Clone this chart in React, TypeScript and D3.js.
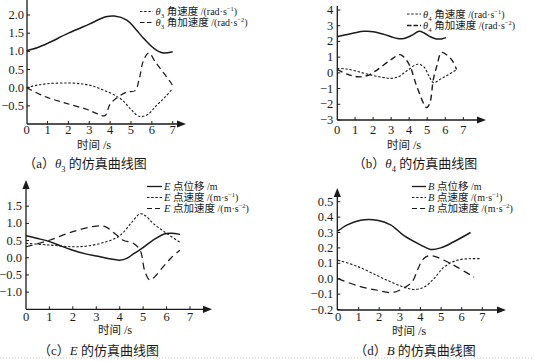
import React from "react";
import * as d3 from "d3";

// ---------- data ----------
const xTickValues = [0, 1, 2, 3, 4, 5, 6, 7];

// (a) theta3
const aAngleT = [0, 0.5, 1, 2, 3, 3.8, 4.2, 4.8, 5.2, 5.6, 6.1, 6.5, 7];
const aAngleV = [1.02, 1.1, 1.22, 1.5, 1.75, 1.95, 1.97, 1.86, 1.63, 1.36, 1.08, 0.96, 0.99];
const aVelT = [0, 0.5, 1, 2, 2.7, 3.2, 3.7, 4.2, 4.6, 5.0, 5.4, 5.8, 6.2, 6.6, 7];
const aVelV = [0, 0.07, 0.11, 0.13, 0.1, 0.04, -0.07, -0.2, -0.35, -0.6, -0.79, -0.74, -0.5, -0.28, -0.02];
const aAccT = [0, 0.9, 1.9, 2.9, 3.4, 3.75, 4.0, 4.4, 4.8, 5.2, 5.4, 5.6, 5.85, 6.2, 6.6, 6.9, 7.05];
const aAccV = [0, -0.25, -0.43, -0.6, -0.72, -0.77, -0.45, -0.25, -0.12, -0.08, 0.25, 0.75, 0.95, 0.68, 0.38, 0.15, 0.0];
const aYTicks = [-0.5, 0, 0.5, 1, 1.5, 2];

// (b) theta4
const bAngleT = [0, 0.5, 1, 1.5, 2, 2.6, 3.0, 3.35, 3.7, 4.2, 4.55, 4.85, 5.2, 5.5, 5.8, 6.05];
const bAngleV = [2.3, 2.42, 2.55, 2.64, 2.62, 2.45, 2.3, 2.18, 2.18, 2.42, 2.64, 2.52, 2.28, 2.16, 2.16, 2.24];
const bVelT = [0, 0.5, 1.1, 1.8, 2.5, 3.0, 3.4, 3.9, 4.45, 4.8, 5.1, 5.35, 5.8, 6.2, 6.63];
const bVelV = [0.28, 0.25, 0.1, -0.12, -0.28, -0.35, -0.25, 0.15, 0.55, 0.4, -0.2, -0.62, -0.35, -0.1, 0.21];
const bAccT = [0, 0.6, 1.15, 1.7, 2.25, 3.0, 3.5, 3.75, 4.05, 4.42, 4.97, 5.15, 5.34, 5.55, 5.8, 6.35, 6.63];
const bAccV = [0.22, -0.1, -0.25, -0.17, 0.21, 0.85, 1.16, 0.95, 0.42, -0.85, -2.21, -1.9, -0.42, 0.5, 1.3, 0.84, 0.21];
const bYTicks = [-3, -2, -1, 0, 1, 2, 3, 4];

// (c) point E
const cDispT = [0, 0.5, 1, 1.5, 2, 2.5, 3, 3.5, 4, 4.3, 4.6, 4.9, 5.4, 5.9, 6.2, 6.57];
const cDispV = [0.64, 0.56, 0.47, 0.34, 0.22, 0.12, 0.05, -0.02, -0.07, -0.02, 0.12, 0.25, 0.5, 0.69, 0.71, 0.68];
const cVelT = [0, 1, 2, 2.6, 3.4, 4.0, 4.5, 4.87, 5.1, 5.43, 6.0, 6.57];
const cVelV = [0.42, 0.37, 0.32, 0.34, 0.46, 0.64, 1.02, 1.28, 1.22, 1.0, 0.71, 0.45];
const cAccT = [0, 1, 2, 3, 3.4, 3.87, 4.15, 4.58, 4.87, 5.08, 5.29, 5.5, 5.86, 6.2, 6.57];
const cAccV = [0.32, 0.51, 0.76, 0.92, 0.9, 0.66, 0.51, 0.42, 0.22, -0.41, -0.65, -0.55, -0.26, 0.0, 0.22];
const cYTicks = [-1, -0.5, 0, 0.5, 1, 1.5];

// (d) point B
const dDispT = [0, 0.45, 1.1, 1.9, 2.55, 3.2, 4.0, 4.49, 4.98, 5.62, 6.43];
const dDispV = [0.31, 0.35, 0.38, 0.38, 0.35, 0.28, 0.22, 0.19, 0.2, 0.24, 0.3];
const dVelT = [0, 0.94, 1.9, 2.55, 3.2, 3.68, 4.17, 4.65, 5.14, 5.78, 6.43, 6.91];
const dVelV = [0.12, 0.08, 0.02, -0.02, -0.055, -0.07, -0.055, 0, 0.075, 0.12, 0.13, 0.13];
const dAccT = [0, 0.94, 1.9, 2.63, 3.2, 3.6, 3.9, 4.15, 4.49, 5.14, 5.78, 6.6];
const dAccV = [0, -0.045, -0.075, -0.09, -0.06, -0.02, 0.07, 0.13, 0.15, 0.12, 0.075, 0.01];
const dYTicks = [-0.2, -0.1, 0, 0.1, 0.2, 0.3, 0.4, 0.5];

// ---------- styling ----------
const FONT = '"Liberation Serif", "Times New Roman", "Noto Sans CJK SC", serif';
const INK = "#1a1a1a";

type Part = { t: string; i?: boolean; sub?: boolean; sup?: boolean; s?: number };

function Rich({ x, y, parts, size, anchor }: { x: number; y: number; parts: Part[]; size: number; anchor?: string }) {
  let off = 0;
  const spans = parts.map((p, k) => {
    const target = p.sub ? size * 0.28 : p.sup ? -size * 0.38 : 0;
    const dy = target - off;
    off = target;
    const fs = p.s ?? (p.sub || p.sup ? size * 0.65 : size);
    return (
      <tspan key={k} dy={dy} fontStyle={p.i ? "italic" : "normal"} fontSize={fs}>
        {p.t}
      </tspan>
    );
  });
  return (
    <text x={x} y={y} fontFamily={FONT} fontSize={size} fill={INK} textAnchor={anchor ?? "start"}>
      {spans}
    </text>
  );
}

type Series = { t: number[]; v: number[]; dash?: string; w: number };
type LegendRow = { y: number; dash?: string; w: number; parts: Part[] };

type PanelCfg = {
  xRange: [number, number];
  yDomain: [number, number];
  yRange: [number, number];
  axisX: number;
  axisY: number;
  yTop: number;
  upArrow: boolean;
  xEnd: number;
  yTicks: number[];
  yFmt: (n: number) => string;
  series: Series[];
  legend: { x1: number; x2: number; tx: number; rows: LegendRow[] };
  title: { x: number; y: number };
  caption: { x: number; y: number; parts: Part[] };
  labelGap: number;
  xLabelY: number;
};

function Panel({ cfg }: { cfg: PanelCfg }) {
  const xs = d3.scaleLinear().domain([0, 7]).range(cfg.xRange);
  const ys = d3.scaleLinear().domain(cfg.yDomain).range(cfg.yRange);
  const line = d3
    .line<[number, number]>()
    .x((d) => xs(d[0]))
    .y((d) => ys(d[1]))
    .curve(d3.curveCatmullRom.alpha(0.5));
  const ah = 9;
  const aw = 3.6;
  return (
    <g>
      {cfg.series.map((s, k) => (
        <path
          key={k}
          d={line(s.t.map((t, i) => [t, s.v[i]] as [number, number])) ?? ""}
          fill="none"
          stroke={INK}
          strokeWidth={s.w}
          strokeDasharray={s.dash}
        />
      ))}
      {/* axes */}
      <line x1={cfg.axisX} x2={cfg.axisX} y1={cfg.axisY} y2={cfg.upArrow ? cfg.yTop + ah - 1 : cfg.yTop} stroke={INK} strokeWidth={1.3} />
      <line x1={cfg.axisX} x2={cfg.xEnd - ah + 1} y1={cfg.axisY} y2={cfg.axisY} stroke={INK} strokeWidth={1.3} />
      <path d={`M${cfg.xEnd},${cfg.axisY} L${cfg.xEnd - ah},${cfg.axisY - aw} L${cfg.xEnd - ah},${cfg.axisY + aw} Z`} fill={INK} />
      {cfg.upArrow && (
        <path d={`M${cfg.axisX},${cfg.yTop} L${cfg.axisX - aw},${cfg.yTop + ah} L${cfg.axisX + aw},${cfg.yTop + ah} Z`} fill={INK} />
      )}
      {/* y ticks */}
      {cfg.yTicks.map((v) => (
        <g key={v}>
          <line x1={cfg.axisX} x2={cfg.axisX + 3} y1={ys(v)} y2={ys(v)} stroke={INK} strokeWidth={1} />
          <text x={cfg.axisX - cfg.labelGap} y={ys(v) + 4} textAnchor="end" fontFamily={FONT} fontSize={12.5} fill={INK}>
            {cfg.yFmt(v)}
          </text>
        </g>
      ))}
      {/* x ticks */}
      {xTickValues.map((t) => (
        <g key={t}>
          {t > 0 && <line x1={xs(t)} x2={xs(t)} y1={cfg.axisY} y2={cfg.axisY - 3} stroke={INK} strokeWidth={1} />}
          <text x={xs(t)} y={cfg.xLabelY} textAnchor="middle" fontFamily={FONT} fontSize={12.5} fill={INK}>
            {String(t)}
          </text>
        </g>
      ))}
      {/* axis title */}
      <Rich x={cfg.title.x} y={cfg.title.y} size={11.5} parts={[{ t: "时间 " }, { t: "/s", s: 12.5 }]} />
      {/* caption */}
      <Rich x={cfg.caption.x} y={cfg.caption.y} size={13} anchor="middle" parts={cfg.caption.parts} />
      {/* legend */}
      {cfg.legend.rows.map((r, k) => (
        <g key={k}>
          <line x1={cfg.legend.x1} x2={cfg.legend.x2} y1={r.y} y2={r.y} stroke={INK} strokeWidth={r.w} strokeDasharray={r.dash} />
          <Rich x={cfg.legend.tx} y={r.y + 3.6} size={10.5} parts={r.parts} />
        </g>
      ))}
    </g>
  );
}

const fmt1 = (n: number) => d3.format(".1f")(n);
const fmt0 = (n: number) => d3.format("d")(n);

const DOT = "2.4,1.8";
const DASH = "6,4";

const unitRad = (p: string): Part[] => [
  { t: " /(rad·s", s: 10 },
  { t: p, sup: true, s: 6.5 },
  { t: ")", s: 10 },
];
const unitM = (p: string): Part[] => [
  { t: " /(m·s", s: 10 },
  { t: p, sup: true, s: 6.5 },
  { t: ")", s: 10 },
];

const panelA: PanelCfg = {
  xRange: [26.7, 172.7],
  yDomain: [0, 2],
  yRange: [87.7, 15],
  axisX: 27,
  axisY: 124,
  yTop: 0,
  upArrow: false,
  xEnd: 186,
  yTicks: aYTicks,
  yFmt: fmt1,
  labelGap: 3,
  xLabelY: 133.5,
  series: [
    { t: aAngleT, v: aAngleV, w: 1.5 },
    { t: aVelT, v: aVelV, w: 1.1, dash: DOT },
    { t: aAccT, v: aAccV, w: 1.25, dash: DASH },
  ],
  legend: {
    x1: 140,
    x2: 153,
    tx: 155.5,
    rows: [
      { y: 11.5, w: 1, dash: DOT, parts: [{ t: "θ", i: true }, { t: "3", sub: true }, { t: " 角速度" }, ...unitRad("−1")] },
      { y: 22.5, w: 1.2, dash: "4.5,2.5", parts: [{ t: "θ", i: true }, { t: "3", sub: true }, { t: " 角加速度" }, ...unitRad("−2")] },
    ],
  },
  title: { x: 77, y: 149 },
  caption: { x: 85, y: 168, parts: [{ t: "（a）" }, { t: "θ", i: true }, { t: "3", sub: true }, { t: " 的仿真曲线图" }] },
};

const panelB: PanelCfg = {
  xRange: [337, 463.3],
  yDomain: [-3, 4],
  yRange: [120, 10],
  axisX: 337.3,
  axisY: 120,
  yTop: 6,
  upArrow: false,
  xEnd: 486,
  yTicks: bYTicks,
  yFmt: fmt0,
  labelGap: 4,
  xLabelY: 133.5,
  series: [
    { t: bAngleT, v: bAngleV, w: 1.5 },
    { t: bVelT, v: bVelV, w: 1.1, dash: DOT },
    { t: bAccT, v: bAccV, w: 1.4, dash: DASH },
  ],
  legend: {
    x1: 407,
    x2: 421,
    tx: 423,
    rows: [
      { y: 14, w: 1, dash: DOT, parts: [{ t: "θ", i: true }, { t: "4", sub: true }, { t: " 角速度" }, ...unitRad("−1")] },
      { y: 25.5, w: 1.6, dash: "4.5,2", parts: [{ t: "θ", i: true }, { t: "4", sub: true }, { t: " 角加速度" }, ...unitRad("−2")] },
    ],
  },
  title: { x: 387, y: 149 },
  caption: { x: 415, y: 168, parts: [{ t: "（b）" }, { t: "θ", i: true }, { t: "4", sub: true }, { t: " 的仿真曲线图" }] },
};

const panelC: PanelCfg = {
  xRange: [26, 190],
  yDomain: [-1.5, 1.5],
  yRange: [309.3, 206.2],
  axisX: 26,
  axisY: 309.3,
  yTop: 180,
  upArrow: true,
  xEnd: 212,
  yTicks: cYTicks,
  yFmt: fmt1,
  labelGap: 4,
  xLabelY: 321,
  series: [
    { t: cDispT, v: cDispV, w: 1.5 },
    { t: cVelT, v: cVelV, w: 1.1, dash: DOT },
    { t: cAccT, v: cAccV, w: 1.25, dash: "7,4.5" },
  ],
  legend: {
    x1: 147,
    x2: 162,
    tx: 164,
    rows: [
      { y: 186.5, w: 1.3, parts: [{ t: "E", i: true }, { t: " 点位移" }, { t: " /m", s: 10 }] },
      { y: 197.5, w: 1, dash: DOT, parts: [{ t: "E", i: true }, { t: " 点速度" }, ...unitM("−1")] },
      { y: 208.5, w: 1.2, dash: "5,3", parts: [{ t: "E", i: true }, { t: " 点加速度" }, ...unitM("−2")] },
    ],
  },
  title: { x: 98, y: 334 },
  caption: { x: 98.5, y: 355, parts: [{ t: "（c）" }, { t: "E", i: true }, { t: " 的仿真曲线图" }] },
};

const panelD: PanelCfg = {
  xRange: [338, 482.3],
  yDomain: [-0.2, 0.5],
  yRange: [309.5, 201.7],
  axisX: 337.3,
  axisY: 310,
  yTop: 188,
  upArrow: true,
  xEnd: 506,
  yTicks: dYTicks,
  yFmt: fmt1,
  labelGap: 4,
  xLabelY: 321,
  series: [
    { t: dDispT, v: dDispV, w: 1.5 },
    { t: dVelT, v: dVelV, w: 1.1, dash: DOT },
    { t: dAccT, v: dAccV, w: 1.25, dash: "7,4.5" },
  ],
  legend: {
    x1: 412,
    x2: 426,
    tx: 428,
    rows: [
      { y: 186.5, w: 1.3, parts: [{ t: "B", i: true }, { t: " 点位移" }, { t: " /m", s: 10 }] },
      { y: 197.5, w: 1, dash: DOT, parts: [{ t: "B", i: true }, { t: " 点速度" }, ...unitM("−1")] },
      { y: 208.5, w: 1.2, dash: "5,3", parts: [{ t: "B", i: true }, { t: " 点加速度" }, ...unitM("−2")] },
    ],
  },
  title: { x: 392, y: 335 },
  caption: { x: 415, y: 355, parts: [{ t: "（d）" }, { t: "B", i: true }, { t: " 的仿真曲线图" }] },
};

export default function App() {
  return (
    <div style={{ position: "absolute", left: 0, top: 0, width: 534, height: 361, background: "#fff" }}>
      <svg width={534} height={361} style={{ display: "block" }}>
        <rect width={534} height={361} fill="#fff" />
        <Panel cfg={panelA} />
        <Panel cfg={panelB} />
        <Panel cfg={panelC} />
        <Panel cfg={panelD} />
        <line x1={0} x2={534} y1={358} y2={358} stroke="#c8c8c8" strokeWidth={1} strokeDasharray="1,2" />
      </svg>
    </div>
  );
}
